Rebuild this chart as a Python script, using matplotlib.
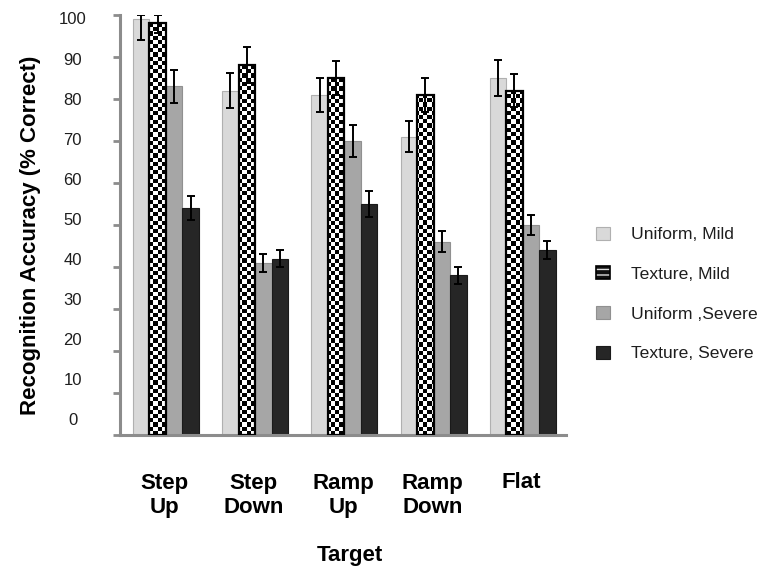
import numpy as np
import matplotlib
matplotlib.use("Agg")
import matplotlib.pyplot as plt
from matplotlib.patches import Rectangle
from matplotlib.legend_handler import HandlerTuple

plt.rcParams['font.family'] = ['Liberation Sans', 'DejaVu Sans']

categories = ["Step\nUp", "Step\nDown", "Ramp\nUp", "Ramp\nDown", "Flat"]
series_names = ["Uniform, Mild", "Texture, Mild", "Uniform ,Severe", "Texture, Severe"]

uniform_mild = [99, 82, 81, 71, 85]
texture_mild = [98, 88, 85, 81, 82]
uniform_severe = [83, 41, 70, 46, 50]
texture_severe = [54, 42, 55, 38, 44]

# error bars (lower, upper)
uniform_mild_err_lo = [5, 4.2, 4.1, 3.7, 4.3]
uniform_mild_err_hi = [1, 4.2, 4.1, 3.7, 4.3]
texture_mild_err_lo = [2.3, 4.3, 4.1, 4.0, 4.0]
texture_mild_err_hi = [2.0, 4.3, 4.1, 4.0, 4.0]
uniform_severe_err = [4.0, 2.1, 3.7, 2.5, 2.4]
texture_severe_err = [2.8, 2.0, 3.0, 2.0, 2.2]

yticks = [0, 10, 20, 30, 40, 50, 60, 70, 80, 90, 100]

W, H = 762, 577
fig = plt.figure(figsize=(W / 100, H / 100), dpi=100)
ax_l, ax_r, ax_b, ax_t = 120, 566, 435, 15
ax = fig.add_axes([ax_l / W, 1 - ax_b / H, (ax_r - ax_l) / W, (ax_b - ax_t) / H])

n = len(categories)
x = np.arange(n)
bw = 0.185
shift = 0.015
pos = [x + (j - 1.5) * bw + shift for j in range(4)]

spine_col = '#8c8c8c'
text_col = '#1e1e1e'

# Uniform, Mild
ax.bar(pos[0], uniform_mild, bw, color='#d9d9d9', edgecolor='#b0b0b0', linewidth=0.8, zorder=2)
# Texture, Mild (checker)
tm_bars = ax.bar(pos[1], texture_mild, bw, color='white', edgecolor='none', zorder=2)
ax.bar(pos[1], texture_mild, bw, fill=False, edgecolor='black', linewidth=1.6, zorder=3.5)
# Uniform, Severe
ax.bar(pos[2], uniform_severe, bw, color='#a6a6a6', edgecolor='#909090', linewidth=0.8, zorder=2)
# Texture, Severe
ax.bar(pos[3], texture_severe, bw, color='#262626', edgecolor='#1a1a1a', linewidth=0.8, zorder=2)

# checker pattern image clipped to the texture bars
xmin, xmax = -0.5, n - 0.5
cell_px = 4.2
nx = int(round((ax_r - ax_l) / cell_px))
ny = int(round((ax_b - ax_t) / cell_px))
checker = (np.indices((ny, nx)).sum(axis=0) % 2).astype(float)
for b in tm_bars:
    im = ax.imshow(checker, cmap='gray', vmin=0, vmax=1, extent=[xmin, xmax, 0, 100],
                   aspect='auto', interpolation='nearest', origin='lower', zorder=3)
    im.set_clip_path(b)

ekw = dict(fmt='none', ecolor='black', elinewidth=1.4, capsize=3.2, capthick=1.4, zorder=5)
ax.errorbar(pos[0], uniform_mild, yerr=[uniform_mild_err_lo, uniform_mild_err_hi], **ekw)
ax.errorbar(pos[1], texture_mild, yerr=[texture_mild_err_lo, texture_mild_err_hi], **ekw)
ax.errorbar(pos[2], uniform_severe, yerr=uniform_severe_err, **ekw)
ax.errorbar(pos[3], texture_severe, yerr=texture_severe_err, **ekw)

ax.set_xlim(xmin, xmax)
ax.set_ylim(0, 100)

for s in ['top', 'right']:
    ax.spines[s].set_visible(False)
for s in ['left', 'bottom']:
    ax.spines[s].set_color(spine_col)
    ax.spines[s].set_linewidth(2.2)

ax.set_yticks(yticks)
ax.set_yticklabels([])
ax.tick_params(axis='y', length=5, width=2, color=spine_col, direction='out')

ax.set_xticks(x)
ax.set_xticklabels(categories, fontsize=16, fontweight='bold', color='black')
ax.tick_params(axis='x', length=0, pad=27)

# y tick labels (offset scale as in the reference)
sec = ax.secondary_yaxis('left', functions=(lambda m: (m - 3.81) / 0.9536,
                                             lambda v: 3.81 + 0.9536 * v))
sec.set_yticks(yticks)
sec.set_yticklabels([str(v) for v in yticks], fontsize=12, color=text_col)
sec.tick_params(axis='y', length=0, pad=34)
for lbl in sec.get_yticklabels():
    lbl.set_horizontalalignment('center')
sec.spines['left'].set_visible(False)

fig.text(31 / W, 1 - 235 / H, "Recognition Accuracy (% Correct)", rotation=90,
         ha='center', va='center', fontsize=16, fontweight='bold', color='black')
fig.text(350 / W, 1 - 556 / H, "Target", ha='center', va='center',
         fontsize=16, fontweight='bold', color='black')

# legend
h_um = Rectangle((0, 0), 1, 1, facecolor='#d9d9d9', edgecolor='#b0b0b0', linewidth=0.8)
h_tm = (Rectangle((0, 0), 1, 1, facecolor='#111111', edgecolor='#dddddd', hatch='---', linewidth=0),
        Rectangle((0, 0), 1, 1, facecolor='none', edgecolor='black', linewidth=1.2))
h_us = Rectangle((0, 0), 1, 1, facecolor='#a6a6a6', edgecolor='#909090', linewidth=0.8)
h_ts = Rectangle((0, 0), 1, 1, facecolor='#262626', edgecolor='#1a1a1a', linewidth=0.8)
leg = fig.legend([h_um, h_tm, h_us, h_ts], series_names,
                 handler_map={tuple: HandlerTuple(ndivide=1, pad=0)},
                 loc='center left', bbox_to_anchor=(596 / W, 1 - 294 / H),
                 frameon=False, fontsize=12.6, handlelength=0.8, handleheight=0.75,
                 handletextpad=1.2, labelspacing=1.38, borderpad=0, borderaxespad=0)
for t in leg.get_texts():
    t.set_color(text_col)

fig.savefig('out.png', dpi=100)
